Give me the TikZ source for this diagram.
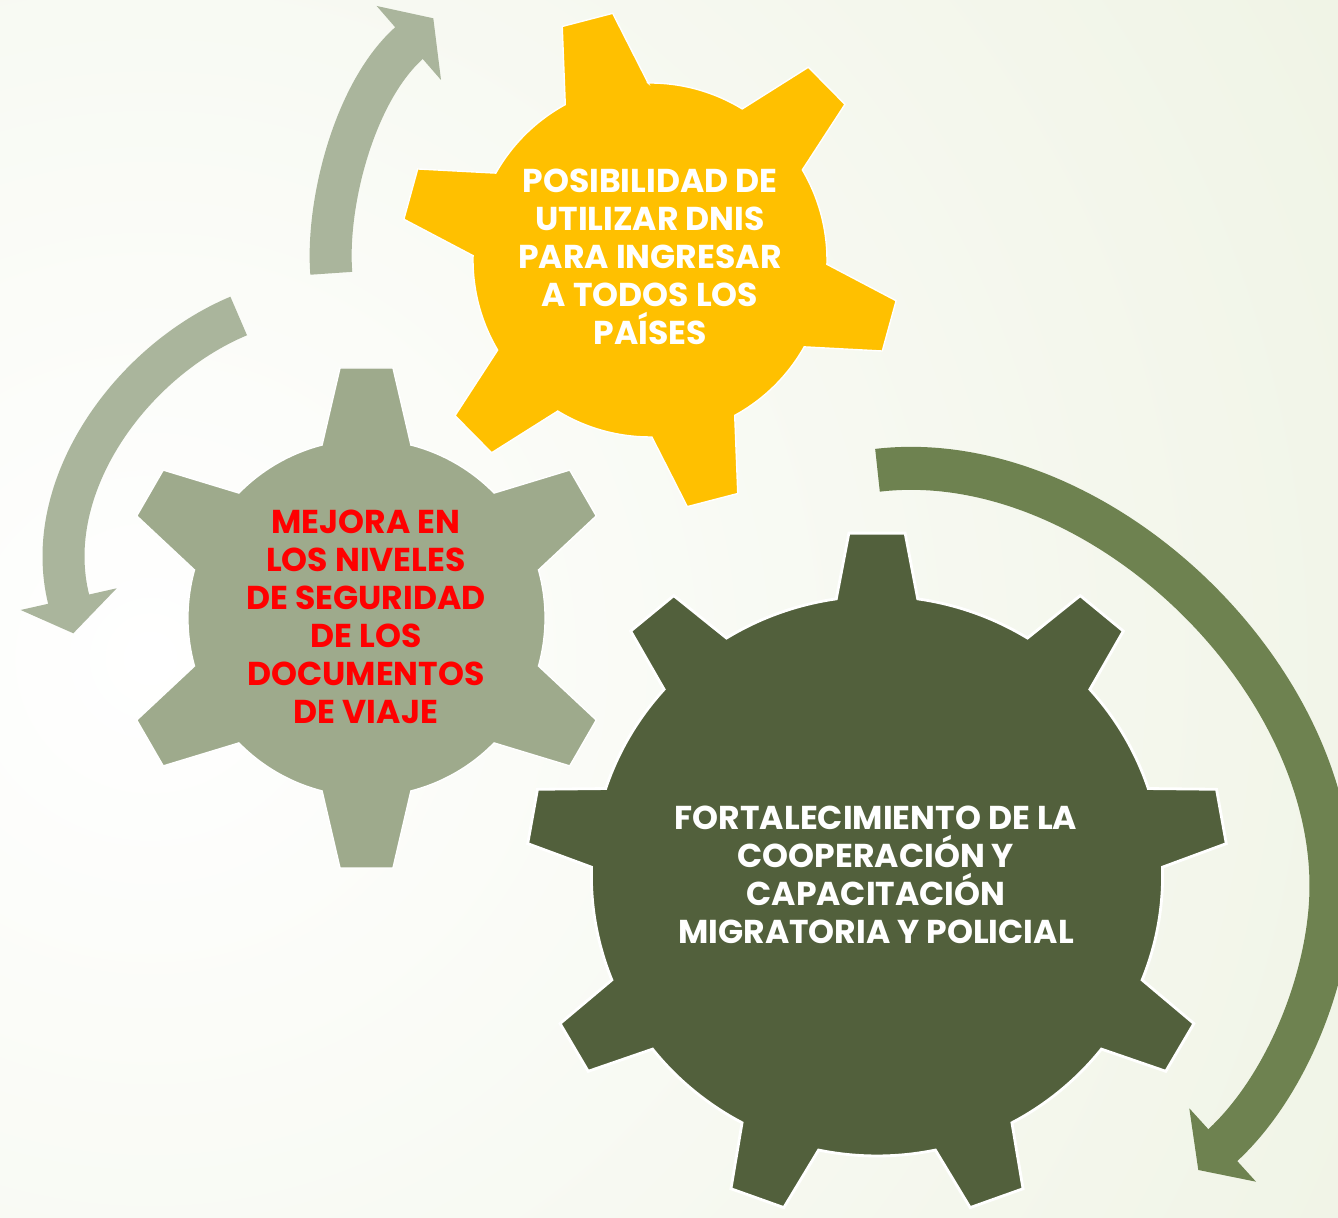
\documentclass[tikz,border=0pt]{standalone}
\usepackage{fontspec}
\setmainfont{Poppins}
\definecolor{gearyellow}{HTML}{FFC000}
\definecolor{geargray}{HTML}{9EAA8C}
\definecolor{geardark}{HTML}{52603C}
\definecolor{arrowlight}{HTML}{AAB59C}
\definecolor{arrowdark}{HTML}{6E8250}
\definecolor{bggreen}{HTML}{E0E8CB}
\newcommand{\gearoutline}[6]{%
  ({#6-#4}:#2) \foreach \k in {1,...,#1}{
    -- ({#6+360/#1*(\k-1)-#5}:#3) -- ({#6+360/#1*(\k-1)+#5}:#3)
    -- ({#6+360/#1*(\k-1)+#4}:#2)
    arc[radius=#2, start angle={#6+360/#1*(\k-1)+#4}, end angle={#6+360/#1*\k-#4}]
  } -- cycle}
\tikzset{
  geartext/.style={align=center, font={\fontsize{9.4}{10.8}\selectfont\bfseries}},
  lightshaft/.style={draw=arrowlight, line width=4.2mm, shorten >=-0.6pt},
  darkshaft/.style={draw=arrowdark, line width=4.3mm, shorten >=-0.6pt},
}
\begin{document}
\begin{tikzpicture}
  \begin{scope}
    \clip (0,0) rectangle (13.38,12.18);
    \shade[inner color=white, outer color=bggreen] (1.5,5.6) circle (28);
  \end{scope}
  \useasboundingbox (0,0) rectangle (13.38,12.18);

  \coordinate (lstart) at (2.387,9.02);
  \coordinate (lend) at (0.685,6.193);
  \coordinate (lbarbA) at (0.207,6.08);
  \coordinate (ltip) at (0.733,5.847);
  \coordinate (lbarbB) at (1.167,6.297);
  \draw[lightshaft] (lstart) to[out=202.7, in=104.4, looseness=0.9] (lend);
  \fill[arrowlight] (lbarbA) -- (ltip) -- (lbarbB) -- cycle;

  \coordinate (tstart) at (3.313,9.447);
  \coordinate (tend) at (4.083,11.743);
  \coordinate (tbarbA) at (3.767,12.12);
  \coordinate (ttip) at (4.333,11.997);
  \coordinate (tbarbB) at (4.41,11.38);
  \draw[lightshaft] (tstart) to[out=94.4, in=221.3, looseness=0.75] (tend);
  \fill[arrowlight] (tbarbA) -- (ttip) -- (tbarbB) -- cycle;

  \coordinate (rstart) at (8.775,7.477);
  \coordinate (rmid) at (13.31,3.32);
  \coordinate (rend) at (12.233,0.733);
  \coordinate (rbarbA) at (11.893,1.097);
  \coordinate (rtip) at (11.983,0.48);
  \coordinate (rbarbB) at (12.56,0.363);
  \draw[darkshaft] (rstart) to[out=6.7, in=90, looseness=0.9] (rmid)
    to[out=-90, in=42.5, looseness=0.8] (rend);
  \fill[arrowdark] (rbarbA) -- (rtip) -- (rbarbB) -- cycle;

  \filldraw[fill=geargray, draw=white, line width=0.4pt, shift={(3.665,6.0)}]
    \gearoutline{6}{1.786}{2.514}{14.4}{6.05}{90};
  \filldraw[fill=gearyellow, draw=white, line width=0.4pt, shift={(6.50,9.58)}]
    \gearoutline{6}{1.77}{2.495}{14.0}{6.0}{104.6};
  \filldraw[fill=geardark, draw=white, line width=0.8pt, shift={(8.77,3.42)}, xscale=1.02]
    \gearoutline{9}{2.80}{3.44}{8.2}{4.6}{90};

  \node[geartext, text=white] (posib) at (6.50,9.61)
    {POSIBILIDAD DE\\UTILIZAR DNIS\\PARA INGRESAR\\A TODOS LOS\\PAÍSES};
  \node[geartext, text=red] (mejora) at (3.66,6.01)
    {MEJORA EN\\LOS NIVELES\\DE SEGURIDAD\\DE LOS\\DOCUMENTOS\\DE VIAJE};
  \node[geartext, text=white] (fortal) at (8.76,3.43)
    {FORTALECIMIENTO DE LA\\COOPERACIÓN Y\\CAPACITACIÓN\\MIGRATORIA Y POLICIAL};
\end{tikzpicture}
\end{document}
